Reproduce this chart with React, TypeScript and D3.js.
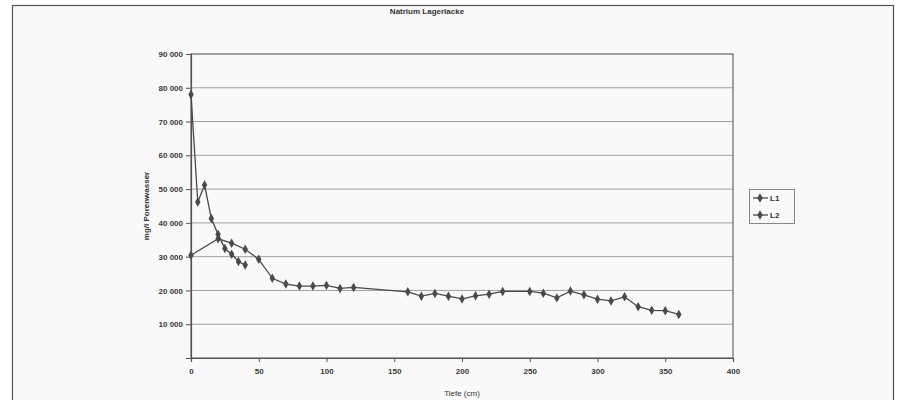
import React, {useRef, useEffect} from "react";
import * as d3 from "d3";

// depth (cm) and sodium (mg/l) per series
const l1Depth = [0, 5, 10, 15, 20, 25, 30, 35, 40];
const l1Value = [78000, 46200, 51200, 41300, 36600, 32400, 30700, 28600, 27500];

const l2Depth = [0, 20, 30, 40, 50, 60, 70, 80, 90, 100, 110, 120, 160, 170, 180, 190, 200, 210, 220, 230, 250, 260, 270, 280, 290, 300, 310, 320, 330, 340, 350, 360];
const l2Value = [30400, 35300, 34000, 32200, 29200, 23600, 21900, 21300, 21300, 21500, 20600, 20900, 19600, 18300, 19100, 18300, 17500, 18400, 18900, 19700, 19700, 19200, 17800, 19800, 18700, 17400, 16900, 18100, 15200, 14100, 14000, 12900];

const xTicks = [0, 50, 100, 150, 200, 250, 300, 350, 400];
const yTicks = [10000, 20000, 30000, 40000, 50000, 60000, 70000, 80000, 90000];

const seriesNames = ["L1", "L2"];

const App = () => {
  const svgRef = useRef(null);

  useEffect(() => {
    const svg = d3.select(svgRef.current);
    svg.selectAll("*").remove();

    const lineColor = "#4a4a4a";
    const font = "Arial, 'Liberation Sans', sans-serif";

    // chart frame
    svg
      .append("rect")
      .attr("x", 12.5)
      .attr("y", 5.5)
      .attr("width", 881)
      .attr("height", 400)
      .attr("fill", "#f9f9f9")
      .attr("stroke", "#555")
      .attr("stroke-width", 1.2);

    const xScale = d3.scaleLinear().domain([0, 400]).range([191, 733]);
    const yScale = d3.scaleLinear().domain([0, 90000]).range([358, 54]);

    // grid
    svg
      .append("g")
      .selectAll("line")
      .data(yTicks.slice(0, -1))
      .enter()
      .append("line")
      .attr("x1", xScale(0))
      .attr("x2", xScale(400))
      .attr("y1", (d) => yScale(d))
      .attr("y2", (d) => yScale(d))
      .attr("stroke", "#a0a0a0")
      .attr("stroke-width", 1);

    // plot area border
    svg
      .append("rect")
      .attr("x", xScale(0))
      .attr("y", yScale(90000))
      .attr("width", xScale(400) - xScale(0))
      .attr("height", yScale(0) - yScale(90000))
      .attr("fill", "none")
      .attr("stroke", "#666")
      .attr("stroke-width", 1.2);

    // axes
    const yAxis = d3
      .axisLeft(yScale)
      .tickValues(yTicks)
      .tickSize(5)
      .tickFormat((d) => d3.format(",")(d).replace(/,/g, " "));
    const yG = svg
      .append("g")
      .attr("transform", `translate(${xScale(0)},0)`)
      .call(yAxis);

    const xAxis = d3.axisBottom(xScale).tickValues(xTicks).tickSize(4);
    const xG = svg
      .append("g")
      .attr("transform", `translate(0,${yScale(0)})`)
      .call(xAxis);

    [yG, xG].forEach((g) => {
      g.select(".domain").attr("stroke", "#555").attr("stroke-width", 1.2);
      g.selectAll(".tick line").attr("stroke", "#555");
      g.selectAll(".tick text")
        .attr("fill", "#3a3a3a")
        .style("font-family", font)
        .style("font-size", "8px")
        .style("font-weight", "bold");
    });
    yG.selectAll(".tick text").attr("x", -8);
    xG.selectAll(".tick text").attr("y", 10);

    // titles
    svg
      .append("text")
      .attr("x", 427)
      .attr("y", 14)
      .attr("text-anchor", "middle")
      .style("font-family", font)
      .style("font-size", "8px")
      .style("font-weight", "bold")
      .attr("fill", "#333")
      .text("Natrium Lagerlacke");

    svg
      .append("text")
      .attr("x", 462)
      .attr("y", 396)
      .attr("text-anchor", "middle")
      .style("font-family", font)
      .style("font-size", "8px")
      .attr("fill", "#333")
      .text("Tiefe (cm)");

    svg
      .append("text")
      .attr("transform", `translate(149,206) rotate(-90)`)
      .attr("text-anchor", "middle")
      .style("font-family", font)
      .style("font-size", "8px")
      .style("font-weight", "bold")
      .attr("fill", "#333")
      .text("mg/l Porenwasser");

    // series
    const series = [
      l1Depth.map((d, i) => [d, l1Value[i]]),
      l2Depth.map((d, i) => [d, l2Value[i]]),
    ];

    const line = d3
      .line()
      .x((d) => xScale(d[0]))
      .y((d) => yScale(d[1]));
    const diamond = d3.symbol().type(d3.symbolDiamond).size(26);

    series.forEach((s) => {
      const g = svg.append("g");
      g.append("path")
        .attr("d", line(s))
        .attr("fill", "none")
        .attr("stroke", lineColor)
        .attr("stroke-width", 1.3);
      g.selectAll("path.pt")
        .data(s)
        .enter()
        .append("path")
        .attr("class", "pt")
        .attr("d", diamond)
        .attr("transform", (d) => `translate(${xScale(d[0])},${yScale(d[1])})`)
        .attr("fill", lineColor);
    });

    // legend
    const legend = svg.append("g");
    legend
      .append("rect")
      .attr("x", 749.5)
      .attr("y", 189.5)
      .attr("width", 45)
      .attr("height", 34)
      .attr("fill", "none")
      .attr("stroke", "#888");
    seriesNames.forEach((name, i) => {
      const y = 198 + i * 17;
      legend
        .append("line")
        .attr("x1", 753)
        .attr("x2", 768)
        .attr("y1", y)
        .attr("y2", y)
        .attr("stroke", lineColor)
        .attr("stroke-width", 1.3);
      legend
        .append("path")
        .attr("d", diamond)
        .attr("transform", `translate(760,${y})`)
        .attr("fill", lineColor);
      legend
        .append("text")
        .attr("x", 770)
        .attr("y", y + 3)
        .style("font-family", font)
        .style("font-size", "8px")
        .style("font-weight", "bold")
        .attr("fill", "#333")
        .text(name);
    });
  }, []);

  return (
    <svg
      ref={svgRef}
      width={902}
      height={400}
      style={{position: "absolute", left: 0, top: 0, background: "#fff"}}
    ></svg>
  );
};

export default App;
